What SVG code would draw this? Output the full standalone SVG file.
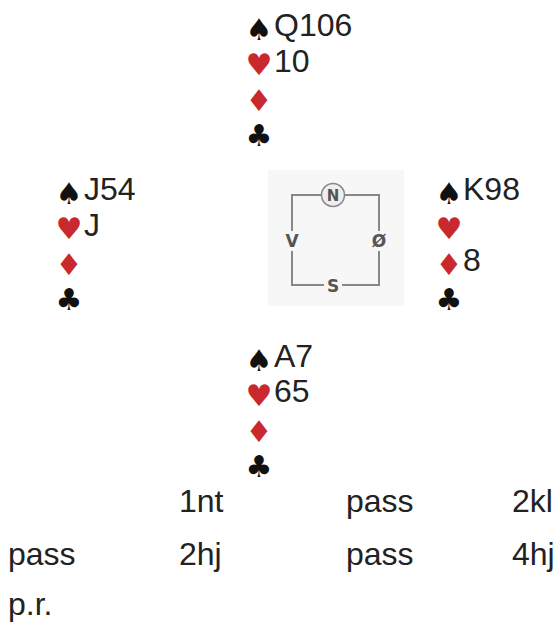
<svg xmlns="http://www.w3.org/2000/svg" width="559" height="622" viewBox="0 0 559 622">
<style>
.t{font-family:"Liberation Sans",Arial,sans-serif;font-size:32px;fill:#222}
.s{font-family:"DejaVu Sans",sans-serif;font-size:30px;text-anchor:middle}
.k{fill:#111}
.r{fill:#c9282d}
.c{font-family:"DejaVu Sans",sans-serif;font-weight:bold;font-size:17px;fill:#555;text-anchor:middle}
</style>
<rect width="559" height="622" fill="#fff"/>
<g id="north">
<text class="s k" x="259" y="39.5">♠</text>
<text class="t" x="274" y="36">Q106</text>
<text class="s r" x="259" y="75">♥</text>
<text class="t" x="274" y="72">10</text>
<text class="s r" x="259" y="110.5">♦</text>
<text class="s k" x="259" y="146">♣</text>
</g>
<g id="west">
<text class="s k" x="69" y="203.5">♠</text>
<text class="t" x="84" y="200">J54</text>
<text class="s r" x="69" y="239">♥</text>
<text class="t" x="84" y="236">J</text>
<text class="s r" x="69" y="274.5">♦</text>
<text class="s k" x="69" y="310">♣</text>
</g>
<g id="east">
<text class="s k" x="449" y="203.5">♠</text>
<text class="t" x="463" y="200">K98</text>
<text class="s r" x="449" y="239">♥</text>
<text class="s r" x="449" y="274.5">♦</text>
<text class="t" x="463" y="271">8</text>
<text class="s k" x="449" y="310">♣</text>
</g>
<g id="south">
<text class="s k" x="259" y="370.5">♠</text>
<text class="t" x="274" y="367">A7</text>
<text class="s r" x="259" y="406">♥</text>
<text class="t" x="274" y="402">65</text>
<text class="s r" x="259" y="441.5">♦</text>
<text class="s k" x="259" y="477">♣</text>
</g>
<g id="compass">
<rect x="268" y="170" width="136" height="136" fill="#f7f7f7"/>
<path d="M321 195H292V231M292 251V285H324M342 285H379V251M379 231V195H345" fill="none" stroke="#888" stroke-width="2"/>
<circle cx="333" cy="195" r="11.5" fill="#eee" stroke="#888" stroke-width="1.5"/>
<text class="c" x="333" y="201" style="font-size:15px">N</text>
<text class="c" x="292" y="247">V</text>
<text class="c" x="379" y="247">Ø</text>
<text class="c" x="333" y="292">S</text>
</g>
<g id="bidding">
<text class="t" x="179" y="512">1nt</text>
<text class="t" x="346" y="512">pass</text>
<text class="t" x="512" y="512">2kl</text>
<text class="t" x="8" y="565">pass</text>
<text class="t" x="179" y="565">2hj</text>
<text class="t" x="346" y="565">pass</text>
<text class="t" x="512" y="565">4hj</text>
<text class="t" x="8" y="615">p.r.</text>
</g>
</svg>
